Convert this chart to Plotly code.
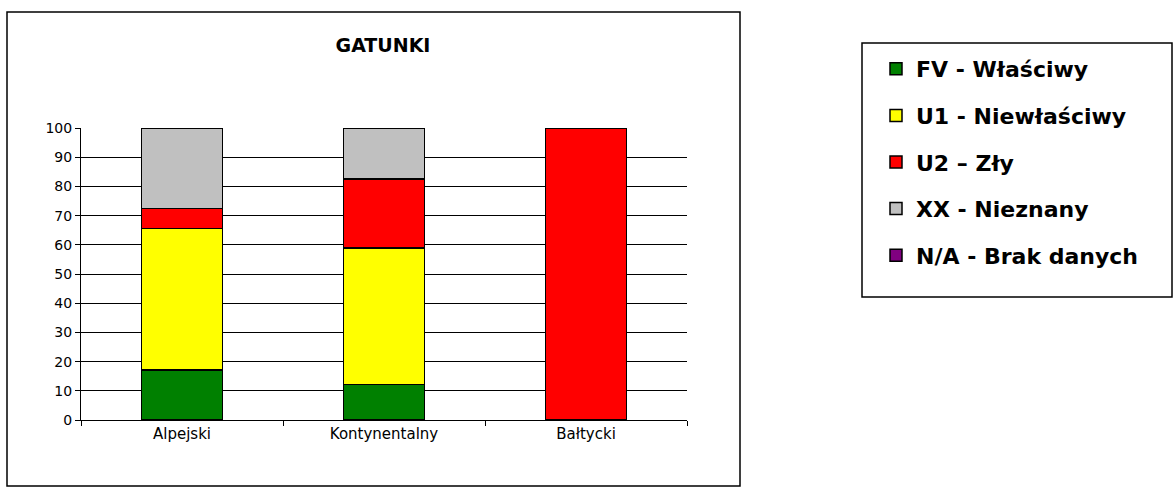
import plotly.graph_objects as go

categories = ["Alpejski", "Kontynentalny", "Bałtycki"]
series_names = ["FV - Właściwy", "U1 - Niewłaściwy", "U2 – Zły", "XX - Nieznany", "N/A - Brak danych"]
fv = [17.2, 12.1, 0]
u1 = [48.3, 46.8, 0]
u2 = [6.9, 23.7, 100]
xx = [27.6, 17.4, 0]
na = [0, 0, 0]
colors = ["#008000", "#FFFF00", "#FF0000", "#C0C0C0", "#800080"]
y_ticks = list(range(0, 101, 10))
title_text = "GATUNKI"

W, H = 1174, 502
L, R, T, B = 81, 687, 128, 420  # plot area in pixels


def px(x):
    return (x - L) / (R - L)


def py(y):
    return (B - y) / (B - T)


fig = go.Figure()
for name, vals, col in zip(series_names, [fv, u1, u2, xx, na], colors):
    fig.add_trace(go.Bar(
        x=categories, y=vals, name=name, legendgroup=name,
        marker=dict(color=col, line=dict(color="#000000", width=1.5)),
    ))

fig.update_layout(
    width=W, height=H,
    margin=dict(l=L, r=W - R, t=T, b=H - B),
    barmode="stack", bargap=0.6,
    plot_bgcolor="white", paper_bgcolor="white",
    font=dict(family="DejaVu Sans", size=14, color="#000000"),
    title=dict(text=title_text, x=383 / W, y=1 - 45 / H, xanchor="center", yanchor="middle",
               font=dict(family="DejaVu Sans", size=19, weight="bold", color="#000000")),
    legend=dict(x=px(876), y=py(48), xanchor="left", yanchor="top",
                traceorder="grouped", tracegroupgap=15,
                font=dict(family="DejaVu Sans", size=22, weight="bold", color="#000000"),
                bgcolor="rgba(0,0,0,0)", borderwidth=0),
    showlegend=True,
)
fig.update_yaxes(range=[0, 100], tickvals=y_ticks, showgrid=True, gridcolor="#000000", gridwidth=1,
                 showline=True, linecolor="#000000", linewidth=1, ticks="outside", ticklen=5,
                 tickcolor="#000000", zeroline=False, tickfont=dict(size=14))
fig.update_xaxes(showline=True, linecolor="#000000", linewidth=1, ticks="outside", ticklen=5,
                 tickson="boundaries", tickcolor="#000000", tickfont=dict(size=15))

# outer chart frame and legend frame
fig.add_shape(type="rect", xref="paper", yref="paper", x0=px(7), x1=px(740), y0=py(486), y1=py(12),
              line=dict(color="#000000", width=1.5), fillcolor="rgba(0,0,0,0)", layer="below")
fig.add_shape(type="rect", xref="paper", yref="paper", x0=px(862), x1=px(1172), y0=py(297), y1=py(43),
              line=dict(color="#000000", width=1.5), fillcolor="rgba(0,0,0,0)", layer="below")

fig.write_html("out.html", config={"displayModeBar": False},
               post_script="document.body.style.margin='0';")
